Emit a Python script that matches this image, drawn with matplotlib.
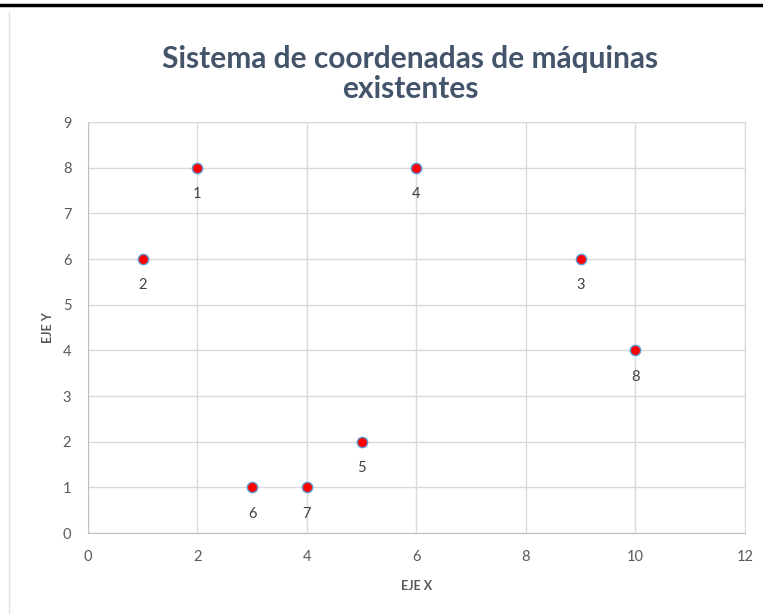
import matplotlib.pyplot as plt
from matplotlib.lines import Line2D

# machine positions
x = [2, 1, 9, 6, 5, 3, 4, 10]
y = [8, 6, 6, 8, 2, 1, 1, 4]
labels = ['1', '2', '3', '4', '5', '6', '7', '8']
xticks = [0, 2, 4, 6, 8, 10, 12]
yticks = [0, 1, 2, 3, 4, 5, 6, 7, 8, 9]

plt.rcParams['font.family'] = ['Lato', 'DejaVu Sans']

fig = plt.figure(figsize=(7.63, 6.14), dpi=100)
ax = fig.add_axes([0.1153, 0.1319, 0.861, 0.6694])

ax.scatter(x, y, s=55, color='#FF0000', edgecolors='#5B9BD5', linewidths=1.0, zorder=3)
for xi, yi, lab in zip(x, y, labels):
    ax.annotate(lab, (xi, yi), xytext=(0, -14), textcoords='offset points',
                ha='center', va='top', fontsize=10.5, color='#404040')

ax.set_xlim(0, 12)
ax.set_ylim(0, 9)
ax.set_xticks(xticks)
ax.set_yticks(yticks)
ax.grid(True, color='#D9D9D9', linewidth=1)
ax.set_axisbelow(True)
for side in ['top', 'right']:
    ax.spines[side].set_color('#D9D9D9')
for side in ['left', 'bottom']:
    ax.spines[side].set_color('#BFBFBF')
ax.tick_params(length=0, labelsize=10.5, labelcolor='#595959', pad=12)

ax.set_xlabel('EJE X', fontsize=9, fontweight='bold', color='#595959', labelpad=12)
ax.set_ylabel('EJE Y', fontsize=9, fontweight='bold', color='#595959', labelpad=6)

fig.text(0.538, 0.88, 'Sistema de coordenadas de máquinas\nexistentes', ha='center', va='center',
         fontsize=21.5, fontweight='bold', color='#44546A', linespacing=1.1)

fig.add_artist(Line2D([0, 1], [0.992, 0.992], color='black', linewidth=2.5, transform=fig.transFigure))
fig.add_artist(Line2D([0.012, 0.012], [0, 0.98], color='#DDE3EA', linewidth=1, transform=fig.transFigure))

fig.savefig('out.png', dpi=100)
